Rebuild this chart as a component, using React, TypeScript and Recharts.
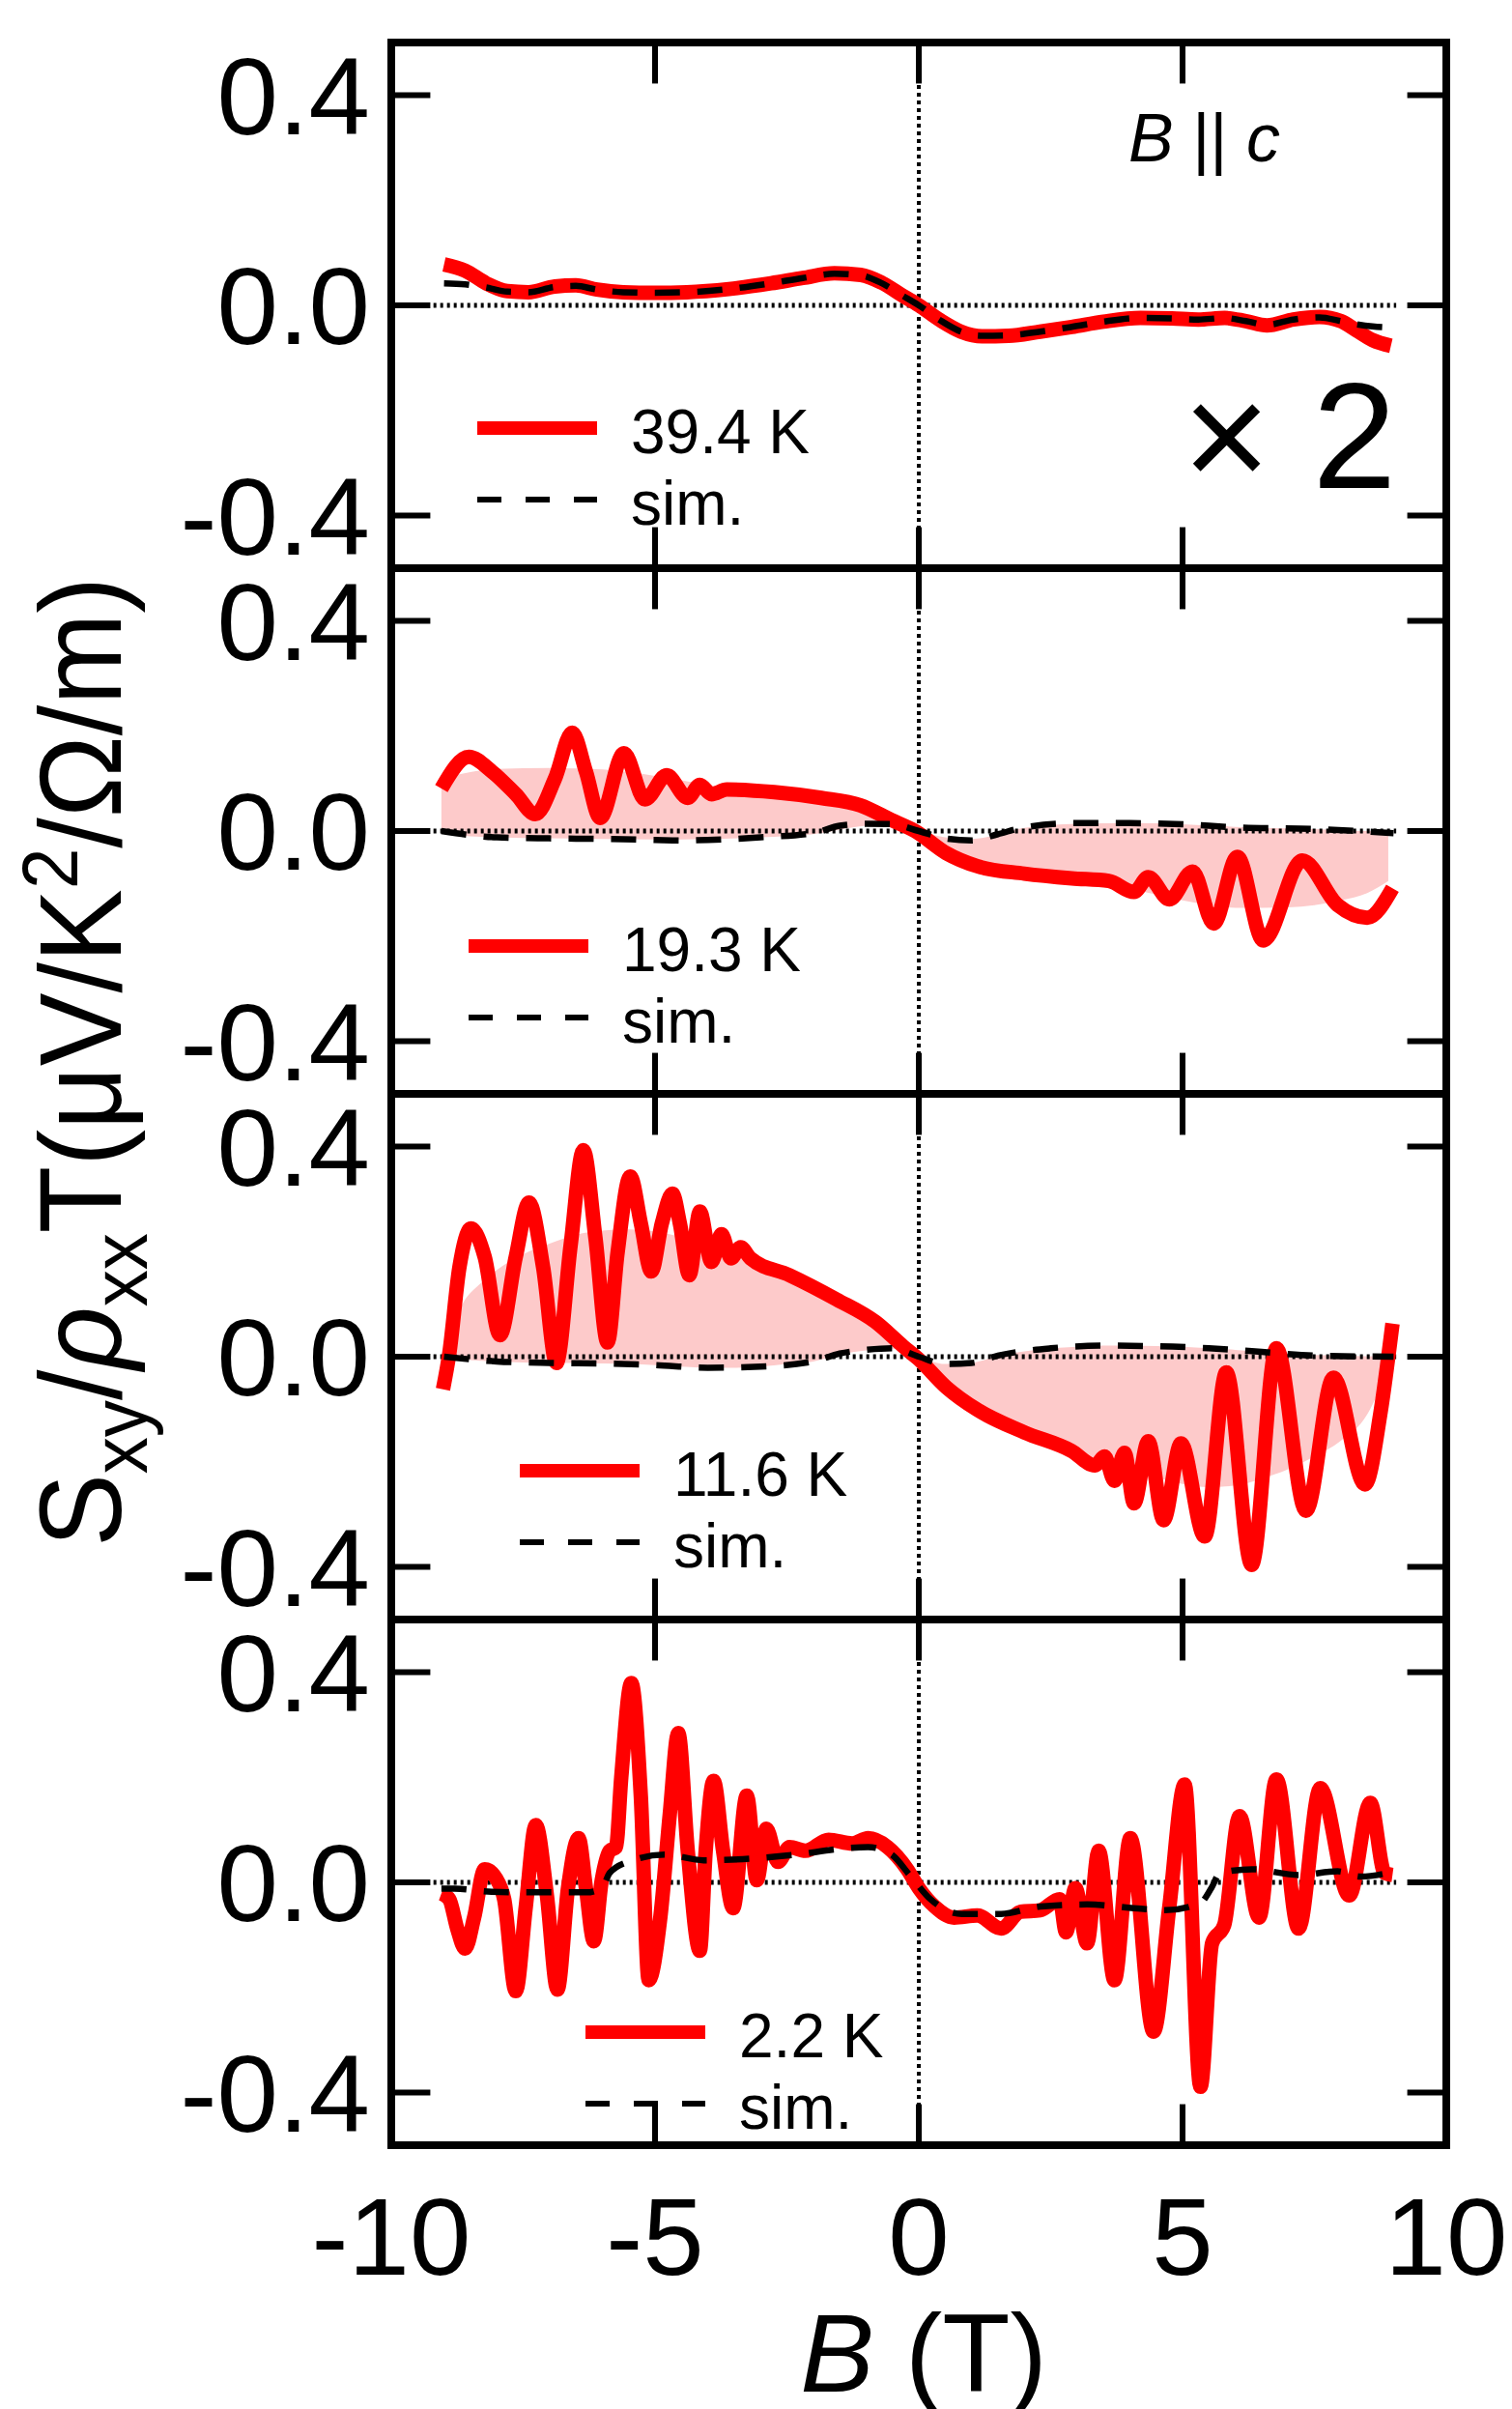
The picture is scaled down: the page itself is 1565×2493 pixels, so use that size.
import { ComposedChart, Line, Area, XAxis, YAxis, ReferenceLine } from "recharts";

// B (T) on x, Sxy/rho_xx T on y, four temperatures stacked top to bottom
const X_TICKS = [-10, -5, 0, 5, 10];
const Y_TICKS = [-0.4, 0, 0.4];
const TEMPS = ["39.4 K", "19.3 K", "11.6 K", "2.2 K"];

// 39.4 K (already x2)
const p1B = [-9.0, -8.6, -8.2, -7.8, -7.4, -6.9, -6.5, -6.1, -5.6, -5.0, -4.4, -3.6, -2.8, -2.2, -1.6, -1.1, -0.7, -0.3, 0, 0.4, 0.8, 1.2, 1.7, 2.3, 2.9, 3.5, 4.2, 4.8, 5.3, 5.8, 6.2, 6.6, 7.1, 7.6, 8.0, 8.3, 8.6, 8.95];
const p1Red = [0.078, 0.066, 0.042, 0.027, 0.025, 0.036, 0.038, 0.03, 0.025, 0.024, 0.025, 0.031, 0.042, 0.052, 0.061, 0.058, 0.043, 0.018, 0.0, -0.028, -0.05, -0.059, -0.058, -0.05, -0.041, -0.031, -0.024, -0.025, -0.027, -0.024, -0.03, -0.038, -0.027, -0.022, -0.03, -0.048, -0.066, -0.077];
const p1Sim = [0.042, 0.04, 0.034, 0.026, 0.025, 0.035, 0.037, 0.03, 0.025, 0.024, 0.025, 0.031, 0.042, 0.052, 0.06, 0.057, 0.042, 0.018, 0.0, -0.028, -0.05, -0.058, -0.057, -0.05, -0.041, -0.031, -0.024, -0.025, -0.027, -0.024, -0.03, -0.037, -0.027, -0.023, -0.03, -0.036, -0.04, -0.042];

// 19.3 K
const p2B = [-9.05, -8.53, -8.09, -7.64, -7.27, -6.9, -6.57, -6.31, -6.04, -5.59, -5.19, -4.78, -4.38, -4.15, -3.93, -3.64, -2.74, -1.85, -1.11, -0.52, -0.07, 0.52, 1.11, 2.0, 2.9, 3.6, 4.08, 4.35, 4.75, 5.19, 5.59, 6.04, 6.53, 7.27, 7.94, 8.5, 8.98];
const p2Red = [0.081, 0.141, 0.113, 0.07, 0.032, 0.099, 0.187, 0.113, 0.025, 0.148, 0.06, 0.106, 0.063, 0.088, 0.07, 0.079, 0.074, 0.063, 0.049, 0.021, 0.0, -0.042, -0.067, -0.081, -0.09, -0.095, -0.116, -0.088, -0.13, -0.077, -0.176, -0.049, -0.208, -0.056, -0.141, -0.165, -0.109];
const p2SimB = [-9.05, -8, -7, -6, -5, -4.5, -4, -3, -2, -1.5, -1, -0.5, 0, 0.5, 1, 1.5, 2, 3, 4, 5, 6, 7.5, 9];
const p2Sim = [0, -0.012, -0.014, -0.015, -0.017, -0.018, -0.017, -0.012, -0.004, 0.01, 0.014, 0.013, 0, -0.014, -0.018, -0.006, 0.007, 0.015, 0.015, 0.013, 0.007, 0.004, -0.004];
const p2BandB = [-9.05, -8.5, -8, -7, -6, -5, -4, -3, -2, -1, -0.5, 0, 0.5, 1, 2, 3, 4, 5, 6, 7, 8, 8.5, 8.9];
const p2BandSim = [-0.005, -0.01, -0.012, -0.014, -0.015, -0.016, -0.015, -0.012, -0.006, 0.01, 0.012, 0, -0.012, -0.015, 0.006, 0.014, 0.015, 0.013, 0.008, 0.005, 0.002, 0, 0];
const p2BandBg = [0.1, 0.112, 0.118, 0.12, 0.117, 0.105, 0.088, 0.076, 0.064, 0.045, 0.022, 0, -0.042, -0.066, -0.083, -0.093, -0.11, -0.132, -0.146, -0.145, -0.132, -0.118, -0.095];

// 11.6 K
const p3B = [-9.02, -8.9, -8.71, -8.49, -8.23, -7.94, -7.64, -7.39, -7.12, -6.87, -6.6, -6.36, -6.13, -5.9, -5.71, -5.47, -5.27, -5.07, -4.87, -4.67, -4.53, -4.35, -4.15, -3.93, -3.74, -3.56, -3.38, -3.19, -2.45, -1.56, -0.82, -0.3, 0, 0.52, 1.11, 2.0, 2.89, 3.34, 3.52, 3.71, 3.9, 4.08, 4.35, 4.64, 4.97, 5.42, 5.83, 6.31, 6.78, 7.34, 7.86, 8.46, 8.75, 8.98];
const p3Red = [-0.062, 0.006, 0.169, 0.244, 0.19, 0.041, 0.19, 0.293, 0.169, -0.012, 0.212, 0.393, 0.226, 0.027, 0.198, 0.343, 0.254, 0.162, 0.254, 0.31, 0.254, 0.155, 0.276, 0.18, 0.233, 0.187, 0.208, 0.187, 0.155, 0.109, 0.066, 0.02, -0.005, -0.058, -0.101, -0.144, -0.179, -0.207, -0.19, -0.236, -0.183, -0.279, -0.161, -0.311, -0.165, -0.342, -0.03, -0.396, 0.016, -0.293, -0.04, -0.243, -0.108, 0.063];
const p3SimB = [-9, -8, -7, -6, -5, -4, -3, -2, -1.5, -1, -0.5, 0, 0.5, 1, 1.5, 2.5, 3.5, 4.5, 5.5, 6.5, 7.5, 9];
const p3Sim = [0, -0.009, -0.012, -0.013, -0.016, -0.021, -0.019, -0.009, 0.006, 0.013, 0.016, 0, -0.014, -0.012, 0.002, 0.016, 0.021, 0.02, 0.016, 0.009, 0.002, 0];
const p3BandB = [-9.0, -8.7, -8.3, -8, -7.5, -7, -6.5, -6, -5.5, -5, -4.5, -4, -3.5, -3, -2.5, -2, -1.5, -1, -0.5, 0, 0.5, 1, 1.5, 2, 2.5, 3, 3.5, 4, 4.5, 5, 5.5, 6, 6.5, 7, 7.5, 8, 8.5, 8.9];
const p3BandSim = [0, -0.004, -0.008, -0.009, -0.011, -0.012, -0.012, -0.013, -0.014, -0.016, -0.019, -0.021, -0.021, -0.019, -0.014, -0.009, 0.004, 0.012, 0.015, 0, -0.014, -0.012, 0.002, 0.01, 0.016, 0.019, 0.021, 0.021, 0.02, 0.019, 0.016, 0.013, 0.009, 0.006, 0.003, 0.002, 0.001, 0];
const p3BandBg = [0.0, 0.09, 0.14, 0.165, 0.195, 0.215, 0.232, 0.24, 0.242, 0.238, 0.228, 0.215, 0.2, 0.18, 0.155, 0.13, 0.103, 0.073, 0.04, 0, -0.055, -0.094, -0.12, -0.144, -0.164, -0.183, -0.2, -0.215, -0.23, -0.242, -0.248, -0.245, -0.232, -0.214, -0.19, -0.16, -0.11, -0.02];

// 2.2 K
const p4B = [-9.05, -8.9, -8.75, -8.6, -8.43, -8.23, -8.01, -7.86, -7.64, -7.45, -7.26, -7.05, -6.85, -6.65, -6.45, -6.31, -6.16, -6.01, -5.86, -5.74, -5.64, -5.45, -5.27, -5.12, -4.9, -4.72, -4.56, -4.38, -4.15, -4.04, -3.89, -3.71, -3.52, -3.26, -3.07, -2.89, -2.67, -2.45, -2.15, -1.71, -1.26, -0.96, -0.59, -0.22, 0, 0.3, 0.67, 1.11, 1.56, 1.93, 2.3, 2.67, 2.79, 2.97, 3.19, 3.41, 3.71, 4.01, 4.45, 4.75, 5.04, 5.34, 5.56, 5.79, 6.08, 6.45, 6.78, 7.2, 7.61, 8.16, 8.56, 8.83, 8.98];
const p4Red = [-0.021, -0.032, -0.088, -0.126, -0.067, 0.025, 0.007, -0.032, -0.207, -0.046, 0.109, -0.025, -0.204, -0.011, 0.084, -0.011, -0.112, 0.004, 0.06, 0.067, 0.2, 0.379, 0.165, -0.186, -0.067, 0.13, 0.284, 0.06, -0.13, 0.06, 0.193, 0.06, -0.049, 0.165, 0.004, 0.102, 0.039, 0.067, 0.06, 0.081, 0.074, 0.084, 0.067, 0.025, -0.011, -0.046, -0.067, -0.063, -0.088, -0.056, -0.053, -0.032, -0.095, -0.011, -0.116, 0.06, -0.186, 0.084, -0.284, -0.046, 0.186, -0.389, -0.116, -0.081, 0.126, -0.067, 0.196, -0.088, 0.179, -0.025, 0.151, 0.018, 0.014];
const p4SimB = [-9.05, -8.8, -8.1, -7.5, -6.3, -6.0, -5.86, -5.42, -4.82, -4.08, -3.04, -2.3, -1.56, -0.96, -0.52, -0.15, 0.22, 0.82, 1.56, 2.3, 3.19, 4.08, 4.67, 5.34, 5.55, 5.71, 6.31, 7.2, 7.94, 8.38, 8.9];
const p4Sim = [-0.012, -0.012, -0.018, -0.019, -0.019, -0.01, 0.018, 0.042, 0.053, 0.042, 0.046, 0.053, 0.063, 0.067, 0.053, 0.011, -0.032, -0.06, -0.06, -0.046, -0.042, -0.049, -0.053, -0.039, -0.01, 0.018, 0.025, 0.014, 0.021, 0.011, 0.018];

const FONT = "'Liberation Sans', Arial, Helvetica, sans-serif";
const RED = "#ff0000";
const PINK = "#fdcaca";
const PAGE_W = 1565;
const PLOT_L = 405;
const PLOT_R = 1497;
const PANEL_H = 544;
const PANEL_TOPS = [44, 588, 1132, 1676];
const BOTTOM_AXIS_H = 262;
// inward tick lengths, in axis units (~40 px)
const TICK_DX = 0.74;
const TICK_DY = 0.078;

const pts = (bs: number[], ys: number[]) => bs.map((b, i) => ({ b, y: ys[i] }));
const band = (bs: number[], lo: number[], hi: number[]) => bs.map((b, i) => ({ b, band: [lo[i], hi[i]] }));

const panels = [
  { red: pts(p1B, p1Red), sim: pts(p1B, p1Sim), fill: null },
  { red: pts(p2B, p2Red), sim: pts(p2SimB, p2Sim), fill: band(p2BandB, p2BandSim, p2BandBg) },
  { red: pts(p3B, p3Red), sim: pts(p3SimB, p3Sim), fill: band(p3BandB, p3BandSim, p3BandBg) },
  { red: pts(p4B, p4Red), sim: pts(p4SimB, p4Sim), fill: null },
];

// inner tick marks on all four sides
const innerTicks = [
  ...Y_TICKS.flatMap((v) => [
    [{ x: -10, y: v }, { x: -10 + TICK_DX, y: v }],
    [{ x: 10 - TICK_DX, y: v }, { x: 10, y: v }],
  ]),
  ...X_TICKS.filter((v) => Math.abs(v) < 10).flatMap((v) => [
    [{ x: v, y: -0.5 }, { x: v, y: -0.5 + TICK_DY }],
    [{ x: v, y: 0.5 - TICK_DY }, { x: v, y: 0.5 }],
  ]),
];

// legend sample start x and red-line y inside each panel
const LEGEND_POS = [
  { x: 494, y: 399 },
  { x: 485, y: 391 },
  { x: 538, y: 390 },
  { x: 606, y: 427 },
];

const axisLine = { stroke: "#000", strokeWidth: 8, strokeLinecap: "square" as const };
const tickFont = { fill: "#000", fontSize: 114, fontFamily: FONT };

function Panel({ idx }: { idx: number }) {
  const p = panels[idx];
  const last = idx === panels.length - 1;
  const bottomH = last ? BOTTOM_AXIS_H : 1;
  const h = 11 + PANEL_H + bottomH + 10;
  return (
    <div style={{ position: "absolute", left: 0, top: PANEL_TOPS[idx] - 11 }}>
      <ComposedChart width={PAGE_W} height={h} margin={{ top: 10, right: 0, bottom: 10, left: 0 }}>
        <XAxis
          xAxisId="b"
          type="number"
          dataKey="b"
          domain={[-10, 10]}
          ticks={X_TICKS}
          interval={0}
          allowDataOverflow
          height={bottomH}
          tick={last ? tickFont : false}
          tickSize={0}
          tickMargin={53}
          axisLine={axisLine}
          tickLine={false}
        />
        <XAxis
          xAxisId="t"
          orientation="top"
          type="number"
          dataKey="b"
          domain={[-10, 10]}
          allowDataOverflow
          height={1}
          tick={false}
          axisLine={axisLine}
          tickLine={false}
        />
        <YAxis
          yAxisId="l"
          type="number"
          domain={[-0.5, 0.5]}
          ticks={Y_TICKS}
          interval={0}
          allowDataOverflow
          width={PLOT_L}
          tick={tickFont}
          tickFormatter={(v: number) => v.toFixed(1)}
          tickSize={0}
          tickMargin={22}
          axisLine={axisLine}
          tickLine={false}
        />
        <YAxis
          yAxisId="r"
          orientation="right"
          type="number"
          domain={[-0.5, 0.5]}
          allowDataOverflow
          width={PAGE_W - PLOT_R}
          tick={false}
          axisLine={axisLine}
          tickLine={false}
        />
        {p.fill && (
          <Area
            xAxisId="b"
            yAxisId="l"
            data={p.fill}
            dataKey="band"
            type="monotone"
            fill={PINK}
            fillOpacity={1}
            stroke="none"
            dot={false}
            activeDot={false}
            isAnimationActive={false}
          />
        )}
        <ReferenceLine xAxisId="b" yAxisId="l" x={0} stroke="#000" strokeWidth={4} strokeDasharray="4 4" />
        <ReferenceLine
          xAxisId="b"
          yAxisId="l"
          segment={[{ x: -9.2, y: 0 }, { x: 9.05, y: 0 }]}
          stroke="#000"
          strokeWidth={5}
          strokeDasharray="3 4"
        />
        {innerTicks.map((seg, i) => (
          <ReferenceLine key={`t${i}`} xAxisId="b" yAxisId="l" segment={seg} stroke="#000" strokeWidth={6} />
        ))}
        <Line
          xAxisId="b"
          yAxisId="l"
          data={p.red}
          dataKey="y"
          type="monotone"
          stroke={RED}
          strokeWidth={15}
          strokeLinejoin="round"
          dot={false}
          activeDot={false}
          isAnimationActive={false}
        />
        <Line
          xAxisId="b"
          yAxisId="l"
          data={p.sim}
          dataKey="y"
          type="monotone"
          stroke="#000"
          strokeWidth={6.5}
          strokeDasharray="26 18"
          dot={false}
          activeDot={false}
          isAnimationActive={false}
        />
      </ComposedChart>
    </div>
  );
}

function Overlay() {
  return (
    <svg
      width={PAGE_W}
      height={2493}
      style={{ position: "absolute", left: 0, top: 0, pointerEvents: "none" }}
      fontFamily={FONT}
    >
      {LEGEND_POS.map((l, i) => {
        const y0 = PANEL_TOPS[i] + l.y;
        return (
          <g key={i}>
            <line x1={l.x} x2={l.x + 124} y1={y0} y2={y0} stroke={RED} strokeWidth={14} />
            <text x={l.x + 159} y={y0 + 26} fontSize={64} fill="#000">
              {TEMPS[i]}
            </text>
            <line x1={l.x} x2={l.x + 124} y1={y0 + 74} y2={y0 + 74} stroke="#000" strokeWidth={6} strokeDasharray="25 25" />
            <text x={l.x + 159} y={y0 + 100} fontSize={64} fill="#000">
              sim.
            </text>
          </g>
        );
      })}
      <text x={1168} y={167} fontSize={70} fill="#000">
        <tspan fontStyle="italic">B</tspan> || <tspan fontStyle="italic">c</tspan>
      </text>
      <text x={1224} y={505} fontSize={156} fill="#000">
        × 2
      </text>
      <text x={956} y={2475} fontSize={115} fill="#000" textAnchor="middle">
        <tspan fontStyle="italic">B</tspan> (T)
      </text>
      <text transform="translate(125,1099) rotate(-90) scale(0.94,1)" textAnchor="middle" fontSize={121} fill="#000">
        S<tspan fontSize={81} dy={27}>xy</tspan>
        <tspan dy={-27}>/</tspan>
        <tspan fontStyle="italic">ρ</tspan>
        <tspan fontSize={81} dy={27}>xx</tspan>
        <tspan dy={-27}>T(μV/K</tspan>
        <tspan fontSize={81} dy={-45}>2</tspan>
        <tspan dy={45}>/Ω/m)</tspan>
      </text>
    </svg>
  );
}

export default function App() {
  return (
    <div style={{ position: "absolute", left: 0, top: 0, width: PAGE_W, height: 2493, background: "#fff", overflow: "hidden" }}>
      {panels.map((_, i) => (
        <Panel key={i} idx={i} />
      ))}
      <Overlay />
    </div>
  );
}
